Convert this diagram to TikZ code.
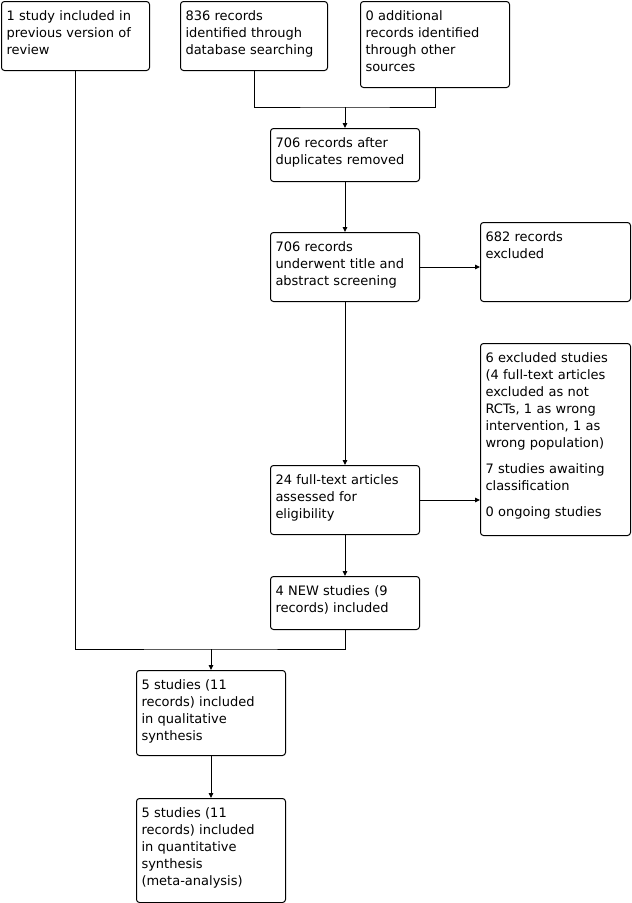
\documentclass[tikz,border=0pt]{standalone}
\usepackage{fontspec}
\setmainfont{DejaVu Sans}
\usetikzlibrary{arrows.meta}
\tikzset{
stepbox/.style={draw=black,line width=1pt,rounded corners=3pt,anchor=north west,align=left,
inner xsep=5pt,inner ysep=4pt,text height=15pt,font=\fontsize{13}{17}\selectfont},
flowarrow/.style={-{Triangle[length=5pt,width=4.5pt]},line width=1pt},
flowline/.style={line width=1pt}
}
\begin{document}
\begin{tikzpicture}[x=1pt,y=-1pt]
\useasboundingbox (0,0) rectangle (632,903);
\node[stepbox,text width=138pt,text depth=46pt] (prev) at (1,1) {1 study included in\\previous version of\\review};
\node[stepbox,text width=137pt,text depth=46pt] (db) at (180,1) {836 records\\identified through\\database searching};
\node[stepbox,text width=139pt,text depth=63pt] (other) at (360,1) {0 additional\\records identified\\through other\\sources};
\node[stepbox,text width=139pt,text depth=30pt] (dup) at (270,128) {706 records after\\duplicates removed};
\node[stepbox,text width=139pt,text depth=46pt] (screen) at (270,232) {706 records\\underwent title and\\abstract screening};
\node[stepbox,text width=140pt,text depth=56pt] (excl) at (480,222) {682 records\\excluded};
\node[stepbox,text width=140pt,text depth=169pt] (exstud) at (480,343) {6 excluded studies\\(4 full-text articles\\excluded as not\\RCTs, 1 as wrong\\intervention, 1 as\\wrong population)\\[9pt]7 studies awaiting\\classification\\[9pt]0 ongoing studies};
\node[stepbox,text width=139pt,text depth=46pt] (full) at (270,465) {24 full-text articles\\assessed for\\eligibility};
\node[stepbox,text width=139pt,text depth=30pt] (new) at (270,576) {4 NEW studies (9\\records) included};
\node[stepbox,text width=139pt,text depth=62pt] (qual) at (136,670) {5 studies (11\\records) included\\in qualitative\\synthesis};
\node[stepbox,text width=139pt,text depth=81pt] (quant) at (136,798) {5 studies (11\\records) included\\in quantitative\\synthesis\\(meta-analysis)};
% junctions
\coordinate (jtop) at (dup.north |- 0,107);
\coordinate (jbot) at (qual.north |- 0,649);
\draw[flowline] (db.south) |- (jtop) -| (other.south);
\draw[flowarrow] (jtop) -- (dup.north);
\draw[flowarrow] (dup) -- (screen);
\draw[flowarrow] (screen.east) -- (screen.east -| excl.west);
\draw[flowarrow] (screen) -- (full);
\draw[flowarrow] (full.east) -- (full.east -| exstud.west);
\draw[flowarrow] (full) -- (new);
\draw[flowline] (prev.south) |- (jbot) -| (new.south);
\draw[flowarrow] (jbot) -- (qual.north);
\draw[flowarrow] (qual) -- (quant);
\end{tikzpicture}
\end{document}
